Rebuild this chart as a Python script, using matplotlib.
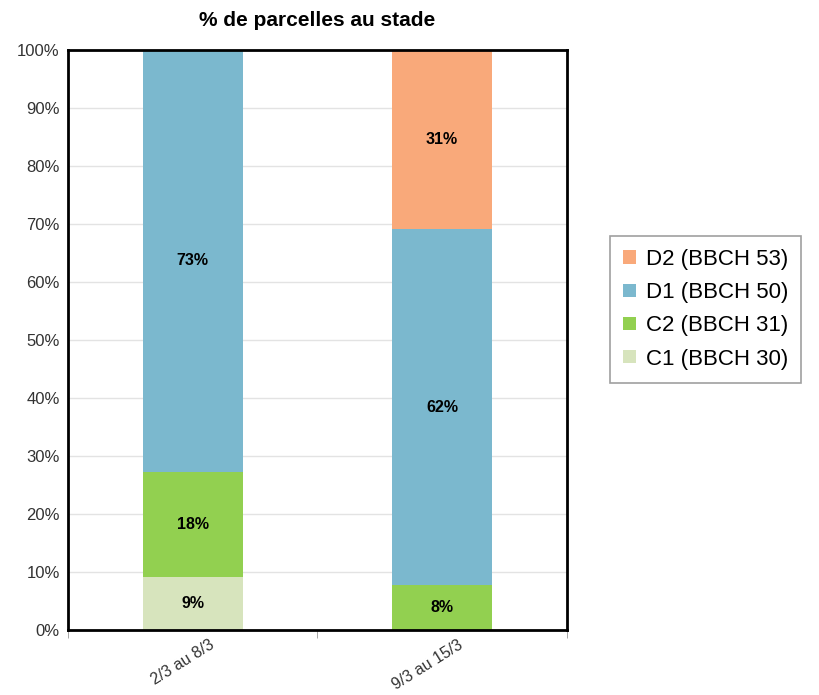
import matplotlib
matplotlib.use("Agg")
import matplotlib.pyplot as plt
import matplotlib.transforms as mtransforms
from matplotlib.ticker import PercentFormatter, FixedLocator

plt.rcParams["font.family"] = ["Liberation Sans", "DejaVu Sans"]

periods = ["2/3 au 8/3", "9/3 au 15/3"]
stages = ["C1 (BBCH 30)", "C2 (BBCH 31)", "D1 (BBCH 50)", "D2 (BBCH 53)"]
c1 = [9.1, 0.0]
c2 = [18.2, 7.7]
d1 = [72.7, 61.5]
d2 = [0.0, 30.8]
colors = ["#d7e4bd", "#92d050", "#7bb8ce", "#f9a97a"]

fig = plt.figure(figsize=(8.2, 6.95), dpi=100)
ax = fig.add_axes([0.083, 0.0935, 0.608, 0.8345])

x = list(range(len(periods)))
bottom = [0.0, 0.0]
handles = []
for name, vals, col in zip(stages, [c1, c2, d1, d2], colors):
    h = ax.bar(x, vals, width=0.4, bottom=bottom, color=col, label=name, zorder=2)
    handles.append(h)
    for xi, v, b in zip(x, vals, bottom):
        if v > 0:
            ax.text(xi, b + v / 2, f"{round(v)}%", ha="center", va="center",
                    fontsize=11.5, fontweight="bold", zorder=3)
    bottom = [b + v for b, v in zip(bottom, vals)]

ax.set_xlim(-0.5, 1.5)
ax.set_ylim(0, 100)
ax.set_yticks(range(0, 101, 10))
ax.yaxis.set_major_formatter(PercentFormatter(decimals=0))
ax.tick_params(axis="y", labelsize=12, length=0, pad=6, colors="#333333")
ax.set_xticks(x)
ax.set_xticklabels(periods, rotation=32, ha="right", rotation_mode="anchor",
                   fontsize=11.5, color="#333333")
ax.tick_params(axis="x", length=0, pad=5)
# shift the rotated labels a bit to the right, like the original
offset = mtransforms.ScaledTranslation(0.16, 0, fig.dpi_scale_trans)
for lbl in ax.get_xticklabels():
    lbl.set_transform(lbl.get_transform() + offset)
ax.xaxis.set_minor_locator(FixedLocator([-0.5, 0.5, 1.5]))
ax.tick_params(axis="x", which="minor", length=6, color="#999999")
ax.grid(axis="y", color="#e3e3e3", linewidth=1, zorder=0)
for s in ax.spines.values():
    s.set_linewidth(2)
    s.set_color("black")

ax.set_title("% de parcelles au stade", fontsize=15, fontweight="bold", pad=17)

leg = fig.legend(handles[::-1], stages[::-1], loc="upper left",
                 bbox_to_anchor=(0.744, 0.661), fontsize=16, frameon=True,
                 fancybox=False, edgecolor="#888888", handlelength=0.55,
                 handleheight=0.55, labelspacing=0.55, borderpad=0.6,
                 handletextpad=0.45, borderaxespad=0)
leg.get_frame().set_linewidth(1.2)

fig.savefig("out.png", dpi=100)
